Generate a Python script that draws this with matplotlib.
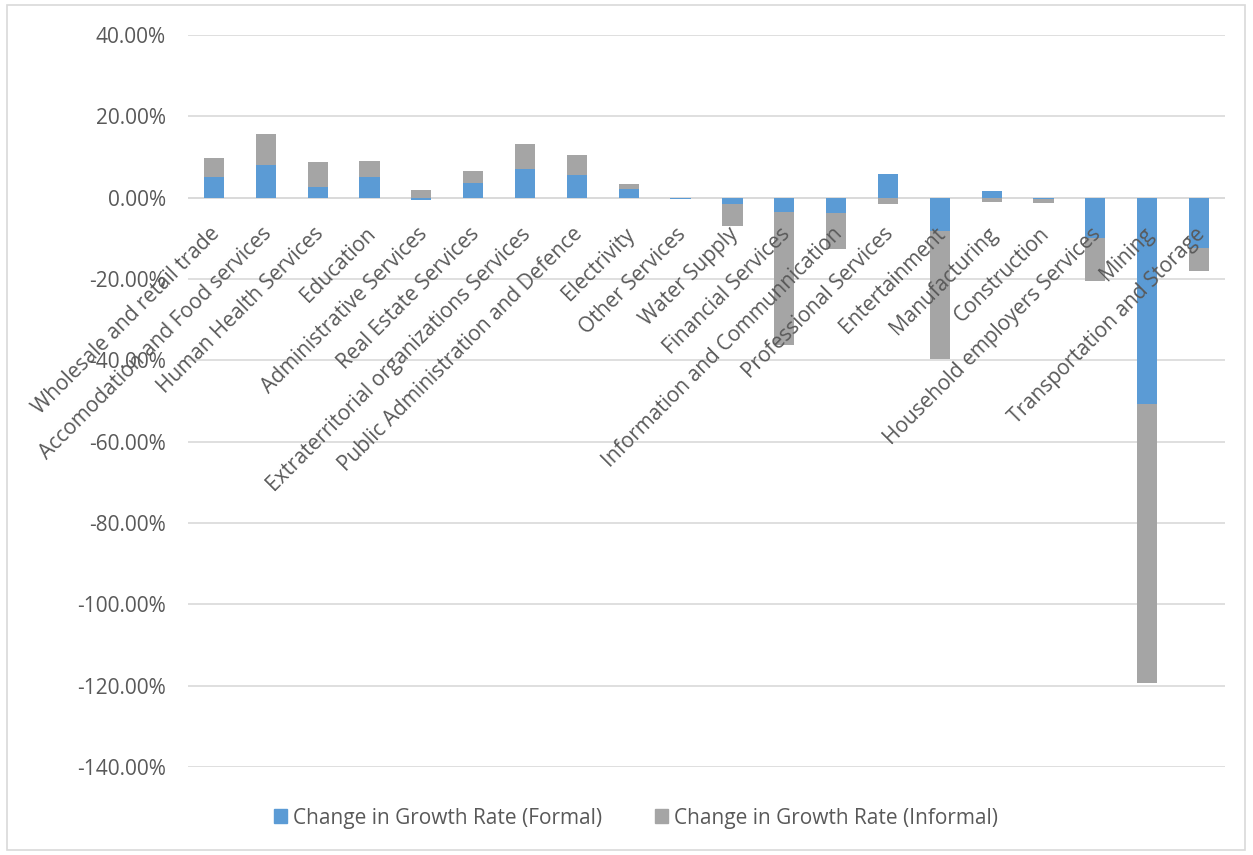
import numpy as np
import matplotlib
matplotlib.use('Agg')
import matplotlib.pyplot as plt
from matplotlib.patches import Rectangle, Patch
from matplotlib.ticker import FuncFormatter

plt.rcParams['font.family'] = ['Open Sans', 'DejaVu Sans']

sectors = ['Wholesale and retail trade', 'Accomodation and Food services',
           'Human Health Services', 'Education', 'Administrative Services',
           'Real Estate Services', 'Extraterritorial organizations Services',
           'Public Administration and Defence', 'Electrivity', 'Other Services',
           'Water Supply', 'Financial Services', 'Information and Communnication',
           'Professional Services', 'Entertainment', 'Manufacturing',
           'Construction', 'Household employers Services', 'Mining',
           'Transportation and Storage']
# change in growth rate, percent
formal = [5.0, 8.0, 2.5, 5.0, -0.6, 3.7, 7.05, 5.65, 2.05, -0.3,
          -1.45, -3.5, -3.7, 5.8, -8.3, 1.55, -0.3, -9.85, -50.7, -12.3]
informal = [4.75, 7.7, 6.25, 4.1, 1.9, 2.8, 6.05, 4.75, 1.35, -0.05,
            -5.4, -32.8, -9.0, -1.55, -31.3, -1.1, -1.1, -10.65, -68.7, -5.8]

blue = '#5B9BD5'
grey = '#A5A5A5'
txt = '#595959'

formal = np.array(formal)
informal = np.array(informal)
x = np.arange(len(sectors))

# excel stacks positives and negatives separately
inf_base = np.where(np.sign(informal) == np.sign(formal), formal, 0.0)

fig = plt.figure(figsize=(12.53, 8.55), dpi=100)
ax = fig.add_axes([188/1253, 1-767/855, (1225-188)/1253, (767-35)/855])

ax.bar(x, formal, width=0.39, color=blue, zorder=3)
ax.bar(x, informal, bottom=inf_base, width=0.39, color=grey, zorder=3)

ax.set_xlim(-0.5, len(sectors)-0.5)
ax.set_ylim(-140, 40)
ax.set_yticks(np.arange(-140, 41, 20))
ax.yaxis.set_major_formatter(FuncFormatter(lambda v, p: '%.2f%%' % v))
ax.tick_params(axis='y', length=0, pad=16, labelsize=15, labelcolor=txt)
ax.set_xticks([])
ax.grid(axis='y', color='#D9D9D9', lw=1.2, zorder=0)
ax.axhline(0, color='#D9D9D9', lw=1.2, zorder=1)
for s in ax.spines.values():
    s.set_visible(False)

for i, name in enumerate(sectors):
    ax.annotate(name, xy=(i, 0), xytext=(2, -24), textcoords='offset points',
                ha='right', va='center', rotation=45, rotation_mode='anchor',
                fontsize=15, color=txt, zorder=4)

handles = [Patch(color=blue, label='Change in Growth Rate (Formal)'),
           Patch(color=grey, label='Change in Growth Rate (Informal)')]
fig.legend(handles=handles, loc='center', bbox_to_anchor=(636/1253, 1-818/855),
           ncol=2, frameon=False, fontsize=15, labelcolor=txt,
           handlelength=0.65, handleheight=0.65, handletextpad=0.3, columnspacing=2.5)

fig.patches.append(Rectangle((7/1253, 1-850/855), 1238/1253, 845/855,
                             transform=fig.transFigure, fill=False,
                             edgecolor='#D9D9D9', lw=1.2))

fig.savefig('out.png', dpi=100)
